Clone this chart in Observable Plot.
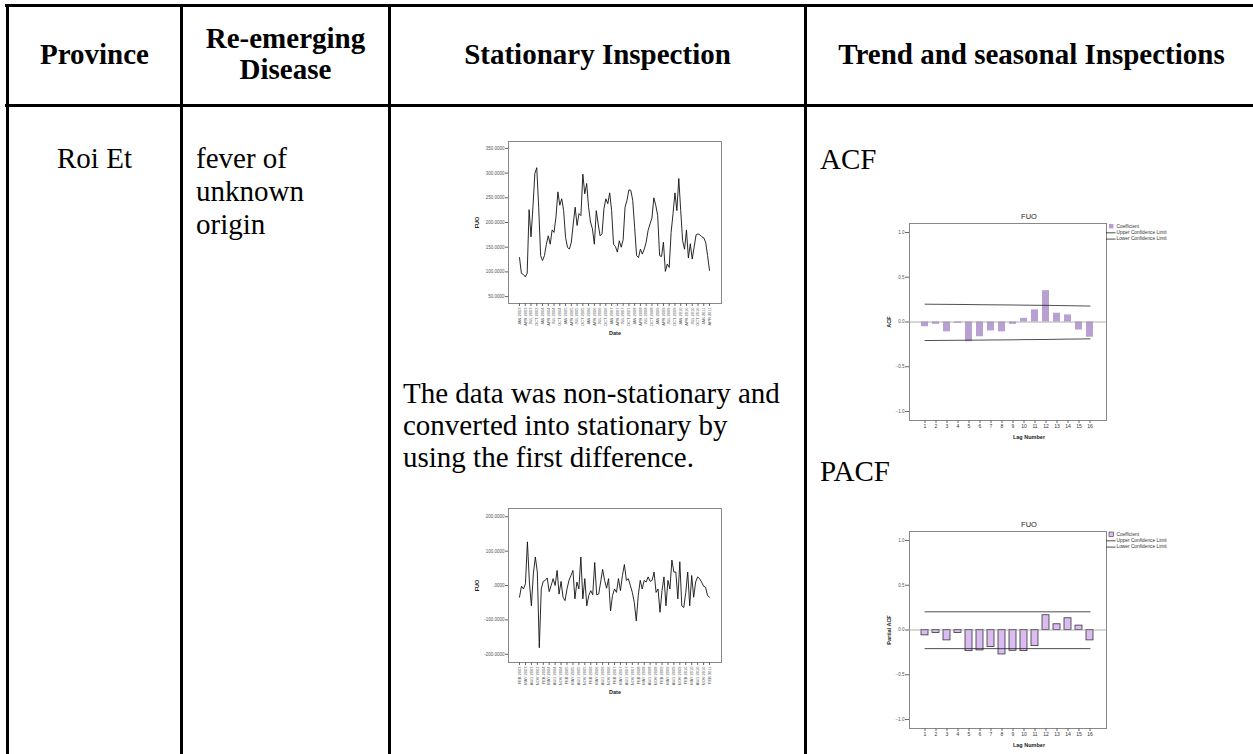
<!DOCTYPE html>
<html>
<head>
<meta charset="utf-8">
<script src="https://cdn.jsdelivr.net/npm/d3@7"></script>
<script src="https://cdn.jsdelivr.net/npm/@observablehq/plot@0.6"></script>
<style>
  html, body { margin: 0; padding: 0; background: #fff; }
  body { width: 1253px; height: 754px; position: relative; overflow: hidden; font-family: "Liberation Serif", "Times New Roman", serif; color: #000; }
  .hl { position: absolute; background: #000; }
  .hd { position: absolute; top: 6px; height: 96px; display: flex; align-items: center; justify-content: center; text-align: center; font-weight: bold; font-size: 29px; line-height: 31px; }
  .bt { position: absolute; font-size: 29px; line-height: 33px; white-space: nowrap; }
  .chart { position: absolute; }
  .chart svg { overflow: visible; }
</style>
</head>
<body>
<!-- table rules -->
<div class="hl" style="left:5px;top:4px;width:1260px;height:3px"></div>
<div class="hl" style="left:5px;top:104px;width:1260px;height:3px"></div>
<div class="hl" style="left:6px;top:4px;width:3px;height:760px"></div>
<div class="hl" style="left:180px;top:4px;width:3px;height:760px"></div>
<div class="hl" style="left:388px;top:4px;width:3px;height:760px"></div>
<div class="hl" style="left:804px;top:4px;width:3px;height:760px"></div>

<div id="root"></div>

<script>
// ---------- table text ----------
const headers = ["Province", "Re-emerging<br>Disease", "Stationary Inspection", "Trend and seasonal Inspections"];
const province = "Roi Et";
const disease = ["fever of", "unknown", "origin"];
const stationaryNote = ["The data was non-stationary and", "converted into stationary by", "using the first difference."];
const panelLabels = ["ACF", "PACF"];

// ---------- data ----------
// FUO monthly series (raw)
const fuoRaw = [129,97,95,90,97,226,171,231,299,311,
  231,133,123,133,156,173,156,185,180,211,
  262,235,248,224,170,150,146,160,197,231,
  194,218,214,298,258,279,231,201,187,156,
  224,197,173,177,228,248,238,260,224,156,
  151,140,163,150,165,231,245,266,265,245,
  190,133,129,146,136,146,160,184,197,209,
  250,235,214,133,131,160,101,116,109,180,
  218,260,224,289,224,163,146,185,128,157,
  126,150,175,177,175,171,169,160,133,103];
// FUO after first difference
const fuoDiff = [-34,-2,-10,5,127,10,-59,34,83,39,
  -181,-10,12,15,22,-18,0,20,0,44,
  -25,12,-34,-44,-10,15,29,44,-39,10,
  -10,83,-39,20,-59,-29,-15,-27,67,-27,
  -25,10,47,15,-8,20,-74,-29,-10,-20,
  20,-15,29,61,15,20,0,-20,-49,-103,
  -29,15,-10,15,10,25,12,15,39,-20,
  -10,-78,-15,25,-59,15,-10,74,39,39,
  -39,69,-59,-64,-20,39,-59,29,-34,10,
  25,20,10,-2,-5,-29,-34];

const dateLabelsRaw = ["JAN 2003","APR 2003","JUL 2003","OCT 2003","JAN 2004","APR 2004","JUL 2004","OCT 2004",
  "JAN 2005","APR 2005","JUL 2005","OCT 2005","JAN 2006","APR 2006","JUL 2006","OCT 2006",
  "JAN 2007","APR 2007","JUL 2007","OCT 2007","JAN 2008","APR 2008","JUL 2008","OCT 2008",
  "JAN 2009","APR 2009","JUL 2009","OCT 2009","JAN 2010","APR 2010","JUL 2010","OCT 2010",
  "JAN 2011","APR 2011"];
const dateLabelsDiff = ["FEB 2003","MAY 2003","AUG 2003","NOV 2003","FEB 2004","MAY 2004","AUG 2004","NOV 2004",
  "FEB 2005","MAY 2005","AUG 2005","NOV 2005","FEB 2006","MAY 2006","AUG 2006","NOV 2006",
  "FEB 2007","MAY 2007","AUG 2007","NOV 2007","FEB 2008","MAY 2008","AUG 2008","NOV 2008",
  "FEB 2009","MAY 2009","AUG 2009","NOV 2009","FEB 2010","MAY 2010","AUG 2010","NOV 2010",
  "FEB 2011"];

const rawTicks = [50, 100, 150, 200, 250, 300, 350];
const diffTicks = [-200, -100, 0, 100, 200];

const lags = [1,2,3,4,5,6,7,8,9,10,11,12,13,14,15,16];
const acfValues  = [-0.053,-0.026,-0.11,-0.015,-0.22,-0.165,-0.10,-0.11,-0.026,0.041,0.135,0.35,0.098,0.079,-0.09,-0.17];
const acfUpper   = [0.199,0.198,0.197,0.196,0.195,0.193,0.192,0.191,0.190,0.188,0.187,0.186,0.184,0.182,0.180,0.178];
const acfLower   = [-0.207,-0.206,-0.205,-0.204,-0.203,-0.202,-0.201,-0.200,-0.199,-0.197,-0.196,-0.195,-0.193,-0.191,-0.190,-0.188];
const pacfValues = [-0.06,-0.034,-0.116,-0.034,-0.236,-0.228,-0.19,-0.273,-0.232,-0.236,-0.18,0.165,0.064,0.131,0.049,-0.116];
const pacfUpper  = [0.203,0.203,0.203,0.203,0.203,0.203,0.203,0.203,0.203,0.203,0.203,0.203,0.203,0.203,0.203,0.203];
const pacfLower  = [-0.208,-0.208,-0.208,-0.208,-0.208,-0.208,-0.208,-0.208,-0.208,-0.208,-0.208,-0.208,-0.208,-0.208,-0.208,-0.208];
const corrTicks = [-1, -0.5, 0, 0.5, 1];
const legendItems = ["Coefficient", "Upper Confidence Limit", "Lower Confidence Limit"];

// ---------- table text layout ----------
const root = document.getElementById("root");
function add(html, style, cls) {
  const d = document.createElement("div");
  d.className = cls; d.style.cssText = style; d.innerHTML = html; root.appendChild(d); return d;
}
add(headers[0], "left:9px;width:171px", "hd");
add(headers[1], "left:183px;width:205px", "hd");
add(headers[2], "left:391px;width:413px", "hd");
add(headers[3], "left:807px;width:449px", "hd");
add(province, "left:9px;width:171px;top:142px;text-align:center", "bt");
add(disease.join("<br>"), "left:196px;top:142px;line-height:33px", "bt");
add(stationaryNote.join("<br>"), "left:403px;top:377px;line-height:32px", "bt");
add(panelLabels[0], "left:820px;top:143px", "bt");
add(panelLabels[1], "left:820px;top:455px", "bt");

// ---------- line charts ----------
const sans = "'Liberation Sans', Arial, sans-serif";
const fmt4 = d => d === 0 ? ".0000" : d.toFixed(4);

function lineChart(vals, labels, yDomain, yTicks, marginBottom, height) {
  const n = vals.length;
  const idx = d3.range(0, n, 3);
  return Plot.plot({
    width: 265, height, marginLeft: 43, marginTop: 6, marginRight: 9, marginBottom,
    style: { fontFamily: sans, background: "transparent", color: "#333" },
    x: { domain: [-(n - 1) * 11 / 190, (n - 1) * (1 + 12 / 190)] },
    y: { domain: yDomain },
    marks: [
      Plot.frame({ stroke: "#888", strokeWidth: 1 }),
      Plot.axisY({ ticks: yTicks, tickFormat: fmt4, tickSize: 3, tickPadding: 1, fontSize: 4.5, label: null, stroke: "#666", fill: "#555" }),
      Plot.axisX({ ticks: idx, tickFormat: i => labels[i / 3], tickRotate: -90, tickSize: 3, tickPadding: 1, fontSize: 4, label: null, stroke: "#666", fill: "#555" }),
      Plot.line(vals, { x: (d, i) => i, y: d => d, stroke: "#111", strokeWidth: 0.9 }),
      Plot.text(["Date"], { frameAnchor: "bottom", dy: 30, lineAnchor: "middle", fontSize: 5.5, fontWeight: "bold", fill: "#222" }),
      Plot.text(["FUO"], { frameAnchor: "left", dx: -31, rotate: -90, textAnchor: "middle", lineAnchor: "middle", fontSize: 5.5, fontWeight: "bold", fill: "#222" })
    ]
  });
}

function place(node, left, top) {
  const w = document.createElement("div");
  w.className = "chart"; w.style.left = left + "px"; w.style.top = top + "px";
  w.appendChild(node); root.appendChild(w);
}

place(lineChart(fuoRaw, dateLabelsRaw, [36, 364], rawTicks, 42, 210), 465, 135);
place(lineChart(fuoDiff, dateLabelsDiff, [-224, 224], diffTicks, 50, 210), 465, 502);

// ---------- correlogram charts ----------
function corrChart(values, upper, lower, yLabel, fill, stroke) {
  const rows = lags.map((lag, i) => ({ lag, v: values[i], up: upper[i], lo: lower[i] }));
  return Plot.plot({
    width: 380, height: 240, marginLeft: 39, marginTop: 18, marginRight: 144, marginBottom: 25,
    style: { fontFamily: sans, background: "transparent", color: "#333" },
    x: { type: "band", domain: lags, paddingInner: 0.36, paddingOuter: 0.18, insetLeft: 9.5, insetRight: 10.5 },
    y: { domain: [-1.1, 1.1] },
    marks: [
      Plot.frame({ stroke: "#888", strokeWidth: 1 }),
      Plot.axisY({ ticks: corrTicks, tickFormat: d3.format(".1f"), tickSize: 4, tickPadding: 1, fontSize: 4.5, label: null, stroke: "#666", fill: "#555" }),
      Plot.axisX({ tickSize: 3, tickPadding: 1, fontSize: 5, label: null, stroke: "#666", fill: "#333" }),
      Plot.barY(rows, { x: "lag", y: "v", fill, stroke, strokeWidth: stroke ? 0.8 : 0 }),
      Plot.ruleY([0], { stroke: "#999", strokeWidth: 0.8 }),
      Plot.line(rows, { x: "lag", y: "up", stroke: "#222", strokeWidth: 0.8 }),
      Plot.line(rows, { x: "lag", y: "lo", stroke: "#222", strokeWidth: 0.8 }),
      Plot.text(["FUO"], { frameAnchor: "top", dx: 21, dy: -7, lineAnchor: "middle", fontSize: 7.5, fill: "#222" }),
      Plot.text(["Lag Number"], { frameAnchor: "bottom", dx: 21, dy: 17, lineAnchor: "middle", fontSize: 5.5, fontWeight: "bold", fill: "#222" }),
      Plot.text([yLabel], { frameAnchor: "left", dx: -20, rotate: -90, textAnchor: "middle", lineAnchor: "middle", fontSize: 5.5, fontWeight: "bold", fill: "#222" })
    ]
  });
}

// legend (decoration, drawn beside the plot frame)
function legend(left, top, fill, stroke) {
  const ns = "http://www.w3.org/2000/svg";
  const svg = document.createElementNS(ns, "svg");
  svg.setAttribute("width", 140); svg.setAttribute("height", 24);
  svg.style.cssText = `position:absolute;left:${left}px;top:${top}px;overflow:visible`;
  const el = (tag, attrs) => { const e = document.createElementNS(ns, tag); for (const k in attrs) e.setAttribute(k, attrs[k]); svg.appendChild(e); return e; };
  el("rect", { x: 3, y: 1, width: 4.5, height: 4.5, fill, stroke: stroke || "none", "stroke-width": 0.6 });
  legendItems.forEach((t, i) => {
    const y = 3.5 + 6.3 * i;
    if (i > 0) el("line", { x1: 0, x2: 9.5, y1: y, y2: y, stroke: "#222", "stroke-width": 0.8 });
    const tx = el("text", { x: 10.5, y, "font-size": 4.8, "font-family": sans, fill: "#333", "dominant-baseline": "middle" });
    tx.textContent = t;
  });
  root.appendChild(svg);
}

place(corrChart(acfValues, acfUpper, acfLower, "ACF", "#b9a0d2", null), 870, 205);
legend(1106, 223, "#b9a0d2", null);
place(corrChart(pacfValues, pacfUpper, pacfLower, "Partial ACF", "#dbbcf2", "#333"), 870, 513);
legend(1106, 531, "#dbbcf2", "#333");
</script>
</body>
</html>
